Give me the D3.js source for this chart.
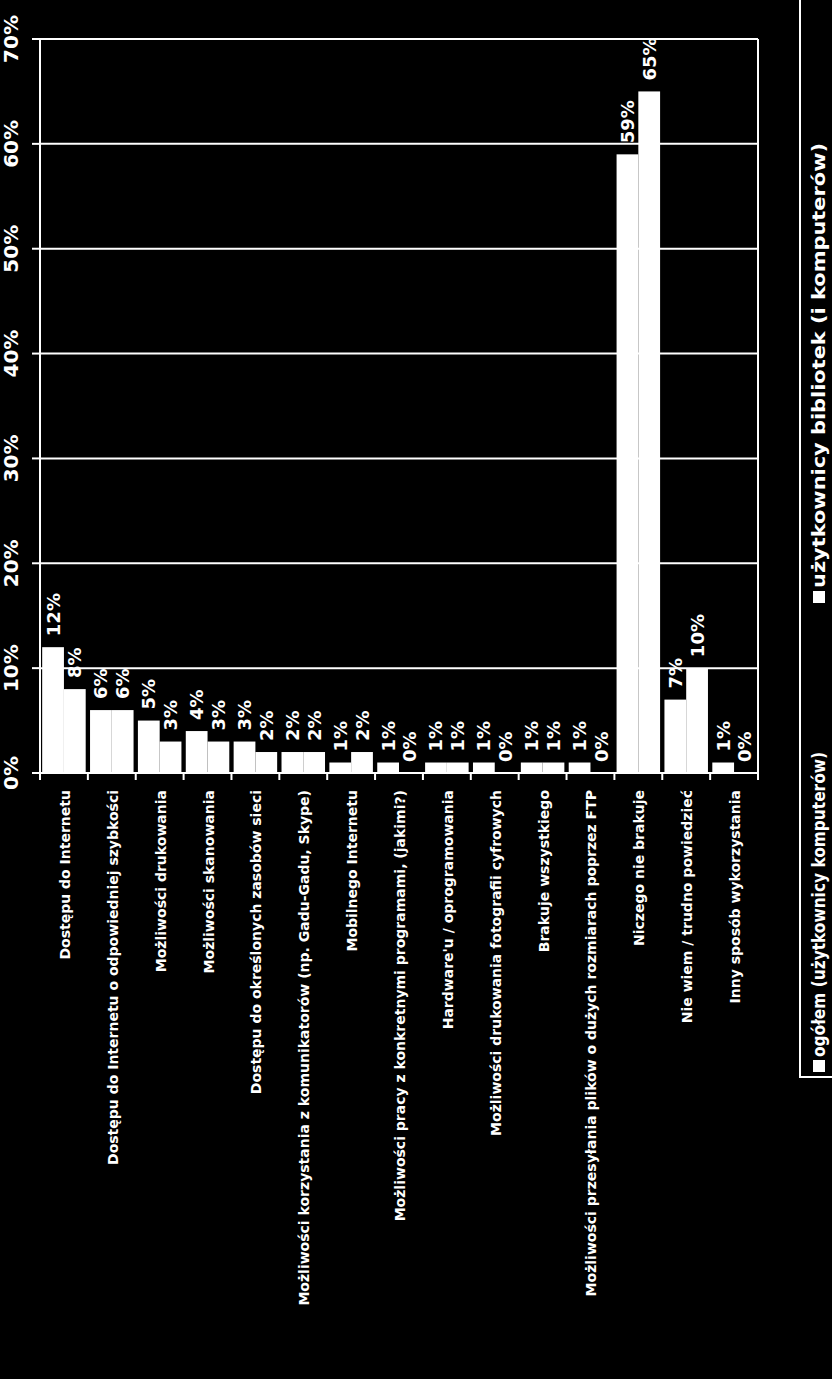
<!DOCTYPE html>
<html><head><meta charset="utf-8">
<script src="https://cdn.jsdelivr.net/npm/d3@7"></script>
<style>body{margin:0;background:#000}svg{display:block}</style>
</head><body><svg id="c" width="832" height="1379"></svg>
<script>
const categories = [
  "Dostępu do Internetu",
  "Dostępu do Internetu o odpowiedniej szybkości",
  "Możliwości drukowania",
  "Możliwości skanowania",
  "Dostępu do określonych zasobów sieci",
  "Możliwości korzystania z komunikatorów (np. Gadu-Gadu, Skype)",
  "Mobilnego Internetu",
  "Możliwości pracy z konkretnymi programami, (jakimi?)",
  "Hardware'u / oprogramowania",
  "Możliwości drukowania fotografii cyfrowych",
  "Brakuje wszystkiego",
  "Możliwości przesyłania plików o dużych rozmiarach poprzez FTP",
  "Niczego nie brakuje",
  "Nie wiem / trudno powiedzieć",
  "Inny sposób wykorzystania"
];
const seriesNames = ["ogółem (użytkownicy komputerów)", "użytkownicy bibliotek (i komputerów)"];
const ogolem =     [12, 6, 5, 4, 3, 2, 1, 1, 1, 1, 1, 1, 59, 7, 1];
const biblioteki = [ 8, 6, 3, 3, 2, 2, 2, 0, 1, 0, 1, 0, 65, 10, 0];
const yTicks = [0, 10, 20, 30, 40, 50, 60, 70];

(function () {
const svg = d3.select("#c");
svg.append("rect").attr("width", 832).attr("height", 1379).attr("fill", "#000");

const pL = 40, pR = 758, pT = 39, pB = 773;
const x = d3.scaleBand().domain(categories).range([pL, pR]).padding(0);
const xs = d3.scaleBand().domain([0, 1]).range([0, x.bandwidth()]).paddingOuter(0.1).paddingInner(0);
const y = d3.scaleLinear().domain([0, 70]).range([pB, pT]);

// gridlines
svg.append("g").selectAll("line").data(yTicks.slice(1)).join("line")
  .attr("x1", pL).attr("x2", pR).attr("y1", d => y(d)).attr("y2", d => y(d))
  .attr("stroke", "#fff").attr("stroke-width", 2);

// y ticks
svg.append("g").selectAll("line").data(yTicks).join("line")
  .attr("x1", pL - 8).attr("x2", pL).attr("y1", d => y(d)).attr("y2", d => y(d))
  .attr("stroke", "#fff").attr("stroke-width", 2);
svg.append("g").selectAll("text").data(yTicks).join("text")
  .attr("transform", d => `translate(11,${y(d)}) rotate(-90)`)
  .attr("text-anchor", "middle").attr("dominant-baseline", "central")
  .attr("fill", "#fff").attr("font-family", "DejaVu Sans").attr("font-weight", "bold")
  .attr("font-size", 20).text(d => d + "%");

// bars
const rows = categories.map((c, i) => ({c, v: [ogolem[i], biblioteki[i]]}));
const g = svg.append("g");
rows.forEach(r => {
  r.v.forEach((v, k) => {
    const bx = x(r.c) + xs(k);
    g.append("rect").attr("x", bx).attr("width", xs.bandwidth())
      .attr("y", y(v)).attr("height", y(0) - y(v)).attr("fill", "#fff");
    g.append("text")
      .attr("transform", `translate(${bx + xs.bandwidth() / 2},${y(v) - 11}) rotate(-90)`)
      .attr("text-anchor", "start").attr("dominant-baseline", "central")
      .attr("fill", "#fff").attr("font-family", "DejaVu Sans").attr("font-weight", "bold")
      .attr("font-size", 18).text(v + "%");
  });
});

// axes lines
svg.append("line").attr("x1", pL).attr("x2", pL).attr("y1", pT).attr("y2", pB)
  .attr("stroke", "#fff").attr("stroke-width", 2);
svg.append("line").attr("x1", pR).attr("x2", pR).attr("y1", pT).attr("y2", pB)
  .attr("stroke", "#fff").attr("stroke-width", 2);
svg.append("line").attr("x1", pL - 8).attr("x2", pR).attr("y1", pB).attr("y2", pB)
  .attr("stroke", "#fff").attr("stroke-width", 2);
// category ticks
const bounds = categories.map(c => x(c)).concat([pR]);
svg.append("g").selectAll("line").data(bounds).join("line")
  .attr("x1", d => d).attr("x2", d => d).attr("y1", pB).attr("y2", pB + 7)
  .attr("stroke", "#fff").attr("stroke-width", 2);

// category labels
svg.append("g").selectAll("text").data(categories).join("text")
  .attr("transform", d => `translate(${x(d) + x.bandwidth() / 2 + 1},790) rotate(-90)`)
  .attr("text-anchor", "end").attr("dominant-baseline", "central")
  .attr("fill", "#fff").attr("font-family", "DejaVu Sans").attr("font-weight", "bold")
  .attr("font-size", 14).text(d => d);

// legend
svg.append("rect").attr("x", 800).attr("y", -10).attr("width", 60).attr("height", 1087)
  .attr("fill", "none").attr("stroke", "#fff").attr("stroke-width", 2);
const legendStart = [1072, 603];
const legendLen = [305, 445];
seriesNames.forEach((s, i) => {
  svg.append("rect").attr("x", 813).attr("y", legendStart[i] - 12).attr("width", 12).attr("height", 12).attr("fill", "#fff");
  svg.append("text")
    .attr("transform", `translate(819,${legendStart[i] - 15}) rotate(-90)`)
    .attr("text-anchor", "start").attr("dominant-baseline", "central")
    .attr("fill", "#fff").attr("font-family", "DejaVu Sans").attr("font-weight", "bold")
    .attr("font-size", 17).attr("textLength", legendLen[i]).attr("lengthAdjust", "spacingAndGlyphs")
    .text(s);
});
})();
</script></body></html>
